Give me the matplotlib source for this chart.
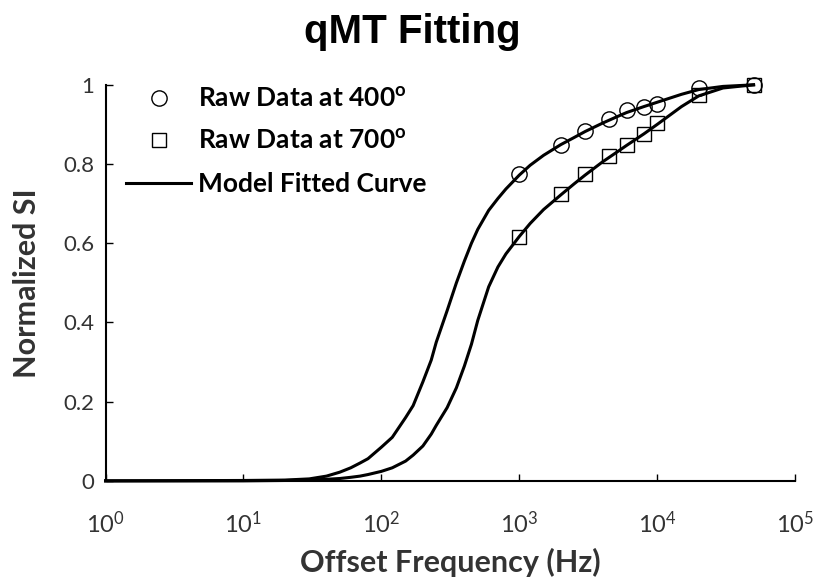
import matplotlib
matplotlib.use("Agg")
import matplotlib.pyplot as plt
from matplotlib.lines import Line2D

# raw data points
freq_pts = [1000, 2000, 3000, 4500, 6000, 8000, 10000, 20000, 50000]
si_400 = [0.774, 0.849, 0.883, 0.914, 0.937, 0.945, 0.952, 0.992, 1.0]
si_700 = [0.617, 0.724, 0.774, 0.820, 0.849, 0.877, 0.904, 0.975, 1.0]

# fitted curves
freq_fit = [1, 10, 20, 30, 40, 50, 60, 70, 80, 100, 120, 150, 170, 200, 230,
            250, 300, 350, 400, 450, 500, 600, 700, 800, 1000, 1200, 1500,
            2000, 2500, 3000, 4000, 5000, 6000, 8000, 10000, 15000, 20000,
            30000, 50000]
fit_400 = [0.0, 0.001, 0.002, 0.005, 0.012, 0.022, 0.033, 0.045, 0.056, 0.085,
           0.11, 0.16, 0.19, 0.25, 0.305, 0.35, 0.43, 0.50, 0.555, 0.60,
           0.635, 0.683, 0.713, 0.737, 0.772, 0.797, 0.822, 0.849, 0.867,
           0.882, 0.903, 0.918, 0.93, 0.945, 0.956, 0.976, 0.988, 0.996, 1.0]
fit_700 = [0.0, 0.0, 0.001, 0.002, 0.004, 0.006, 0.009, 0.012, 0.016, 0.024,
           0.033, 0.05, 0.065, 0.088, 0.118, 0.14, 0.185, 0.235, 0.29, 0.345,
           0.405, 0.49, 0.54, 0.573, 0.617, 0.65, 0.685, 0.722, 0.75, 0.772,
           0.805, 0.828, 0.847, 0.876, 0.9, 0.945, 0.972, 0.992, 1.0]

yticks = [0, 0.2, 0.4, 0.6, 0.8, 1]
ytick_labels = ["0", "0.2", "0.4", "0.6", "0.8", "1"]
xticks = [1, 10, 100, 1000, 10000, 100000]

plt.rcParams['font.family'] = ['Lato', 'DejaVu Sans']
plt.rcParams['mathtext.default'] = 'regular'

fig = plt.figure(figsize=(8.18, 5.85), dpi=100)
ax = fig.add_axes([0.129, 0.178, 0.843, 0.677])

ax.semilogx(freq_fit, fit_400, color='black', lw=2.2, clip_on=False)
ax.semilogx(freq_fit, fit_700, color='black', lw=2.2, clip_on=False)
ax.semilogx(freq_pts, si_400, 'o', mfc='none', mec='black', ms=11, mew=1,
            clip_on=False)
ax.semilogx(freq_pts, si_700, 's', mfc='none', mec='black', ms=9.5, mew=1,
            clip_on=False)

ax.set_xlim(1, 1e5)
ax.set_ylim(0, 1)
ax.set_xticks(xticks)
ax.minorticks_off()
ax.set_yticks(yticks)
ax.set_yticklabels(ytick_labels)
ax.tick_params(direction='in', length=5, width=1, labelcolor='#333333')
ax.tick_params(axis='x', labelsize=17, pad=21)
ax.tick_params(axis='y', labelsize=16, pad=8)
for s in ['top', 'right']:
    ax.spines[s].set_visible(False)
for s in ['left', 'bottom']:
    ax.spines[s].set_linewidth(1.5)

ax.set_xlabel('Offset Frequency (Hz)', fontsize=22, fontweight='bold',
              color='#333333', labelpad=8)
ax.set_ylabel('Normalized SI', fontsize=22, fontweight='bold',
              color='#333333', labelpad=16)
fig.text(0.504, 0.926, 'qMT Fitting', fontsize=29, fontweight='bold',
         family=['Liberation Sans', 'DejaVu Sans'], ha='center', va='baseline')

handles = [
    Line2D([], [], ls='none', marker='o', mfc='none', mec='black', ms=11),
    Line2D([], [], ls='none', marker='s', mfc='none', mec='black', ms=9.5),
    Line2D([], [], color='black', lw=2.2),
]
labels = [r'Raw Data at 400$^\mathregular{o}$',
          r'Raw Data at 700$^\mathregular{o}$',
          'Model Fitted Curve']
leg = ax.legend(handles, labels, loc='upper left', frameon=False,
                handlelength=2.5, prop={'weight': 'bold', 'size': 19},
                labelspacing=0.7, borderaxespad=0.0, borderpad=0.0,
                bbox_to_anchor=(0.029, 0.995), handletextpad=0.25)

fig.savefig('out.png', dpi=100)
